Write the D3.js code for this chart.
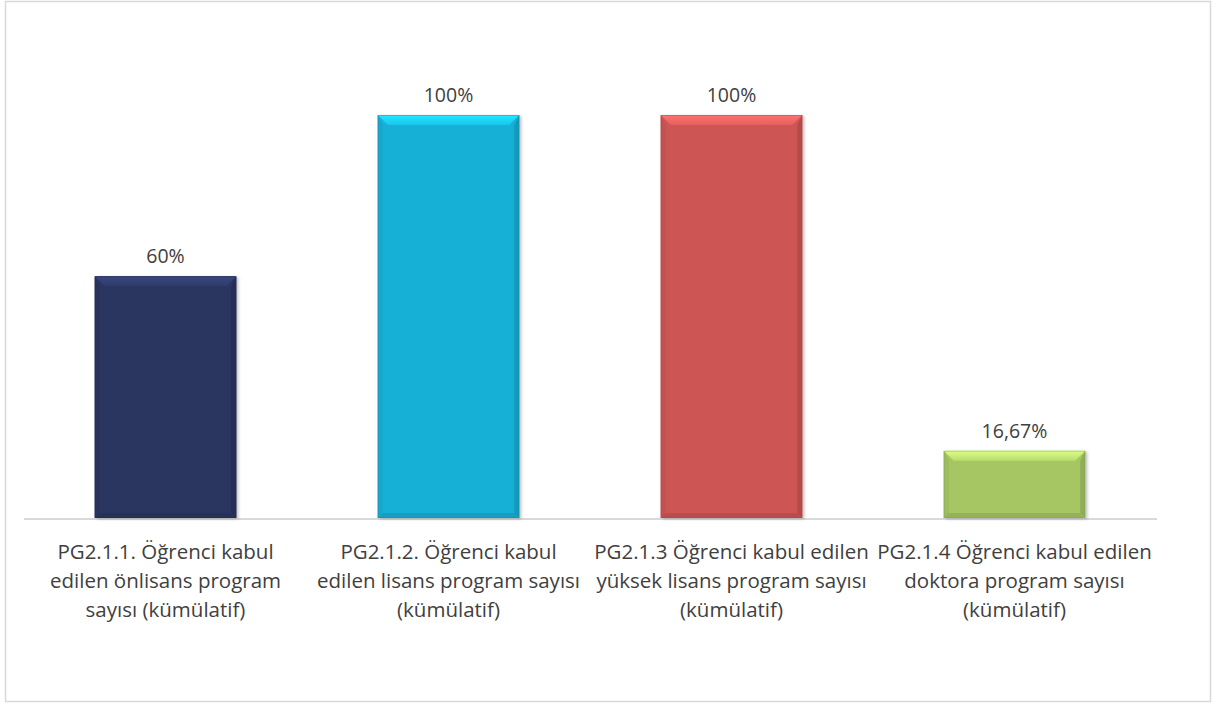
<!DOCTYPE html>
<html>
<head>
<meta charset="utf-8">
<script src="https://cdn.jsdelivr.net/npm/d3@7"></script>
<style>
  html, body { margin: 0; padding: 0; background: #fff; }
  svg { display: block; }
  text { font-family: "Open Sans", Lato, sans-serif; fill: #404040; }
</style>
</head>
<body>
<svg id="chart" width="1221" height="704"></svg>
<script>
const categories = [
  "PG2.1.1. Öğrenci kabul edilen önlisans program sayısı (kümülatif)",
  "PG2.1.2. Öğrenci kabul edilen lisans program sayısı (kümülatif)",
  "PG2.1.3 Öğrenci kabul edilen yüksek lisans program sayısı (kümülatif)",
  "PG2.1.4 Öğrenci kabul edilen doktora program sayısı (kümülatif)"
];
const categoryLines = [
  ["PG2.1.1. Öğrenci kabul", "edilen önlisans program", "sayısı (kümülatif)"],
  ["PG2.1.2. Öğrenci kabul", "edilen lisans program sayısı", "(kümülatif)"],
  ["PG2.1.3 Öğrenci kabul edilen", "yüksek lisans program sayısı", "(kümülatif)"],
  ["PG2.1.4 Öğrenci kabul edilen", "doktora program sayısı", "(kümülatif)"]
];
const values = [60, 100, 100, 16.67];
const valueLabels = ["60%", "100%", "100%", "16,67%"];
const colors = ["#2B3560", "#17B0D6", "#CD5654", "#A5C663"];

const svg = d3.select("#chart");
// outer border
svg.append("rect").attr("x", 5.5).attr("y", 1.5).attr("width", 1205).attr("height", 700)
  .attr("fill", "#fff").attr("stroke", "#d9d9d9").attr("stroke-width", 1.5);

const plot = { left: 24, right: 1156, top: 115, bottom: 518 };
const x = d3.scaleBand().domain(categories).range([plot.left, plot.right]).paddingInner(0.5).paddingOuter(0.25);
const y = d3.scaleLinear().domain([0, 100]).range([plot.bottom, plot.top]);

const defs = svg.append("defs");
const filter = defs.append("filter").attr("id", "shadow").attr("x", "-10%").attr("y", "-10%").attr("width", "130%").attr("height", "130%");
filter.append("feDropShadow").attr("dx", 2).attr("dy", 1).attr("stdDeviation", 1.5).attr("flood-color", "#000").attr("flood-opacity", 0.25);

// axis line
svg.append("line").attr("x1", plot.left).attr("x2", plot.right + 1)
  .attr("y1", plot.bottom + 1).attr("y2", plot.bottom + 1)
  .attr("stroke", "#d9d9d9").attr("stroke-width", 2);

const bev = 10;
const g = svg.append("g");
categories.forEach((c, i) => {
  const x0 = x(c), w = x.bandwidth(), y0 = y(values[i]), h = y(0) - y(values[i]);
  const base = d3.color(colors[i]);
  const gid = "topgrad" + i;
  const tg = defs.append("linearGradient").attr("id", gid).attr("x1", 0).attr("y1", 0).attr("x2", 0).attr("y2", 1);
  tg.append("stop").attr("offset", "0%").attr("stop-color", base.brighter(0.8).formatHex());
  tg.append("stop").attr("offset", "100%").attr("stop-color", base.brighter(0.3).formatHex());
  const bg = g.append("g");
  bg.append("rect").attr("x", x0).attr("y", y0).attr("width", w).attr("height", h)
    .attr("fill", colors[i]).attr("filter", "url(#shadow)");
  const x1 = x0 + w, y1 = y0 + h;
  const sb = 5;
  // left bevel
  bg.append("path").attr("d", `M${x0},${y0}L${x0+sb},${y0+bev}L${x0+sb},${y1-sb}L${x0},${y1}Z`)
    .attr("fill", base.darker(0.15).formatHex());
  // right bevel (dark)
  bg.append("path").attr("d", `M${x1},${y0}L${x1-sb},${y0+bev}L${x1-sb},${y1-sb}L${x1},${y1}Z`)
    .attr("fill", base.darker(0.4).formatHex());
  // bottom bevel (dark)
  bg.append("path").attr("d", `M${x0},${y1}L${x0+sb},${y1-sb}L${x1-sb},${y1-sb}L${x1},${y1}Z`)
    .attr("fill", base.darker(0.3).formatHex());
  // top bevel (light)
  bg.append("path").attr("d", `M${x0},${y0}L${x1},${y0}L${x1-bev},${y0+bev}L${x0+bev},${y0+bev}Z`)
    .attr("fill", `url(#${gid})`);
  // thin outline
  bg.append("rect").attr("x", x0 + 0.5).attr("y", y0 + 0.5).attr("width", w - 1).attr("height", h - 1)
    .attr("fill", "none").attr("stroke", base.darker(0.5).formatHex()).attr("stroke-opacity", 0.45);

  // value label
  svg.append("text").attr("x", x0 + w / 2).attr("y", y0 - 13)
    .attr("text-anchor", "middle").attr("font-size", 19.5).text(valueLabels[i]);

  // category label
  const t = svg.append("text").attr("text-anchor", "middle").attr("font-size", 20.5);
  categoryLines[i].forEach((ln, k) => {
    t.append("tspan").attr("x", x0 + w / 2).attr("y", 559 + k * 29).text(ln);
  });
});
</script>
</body>
</html>
